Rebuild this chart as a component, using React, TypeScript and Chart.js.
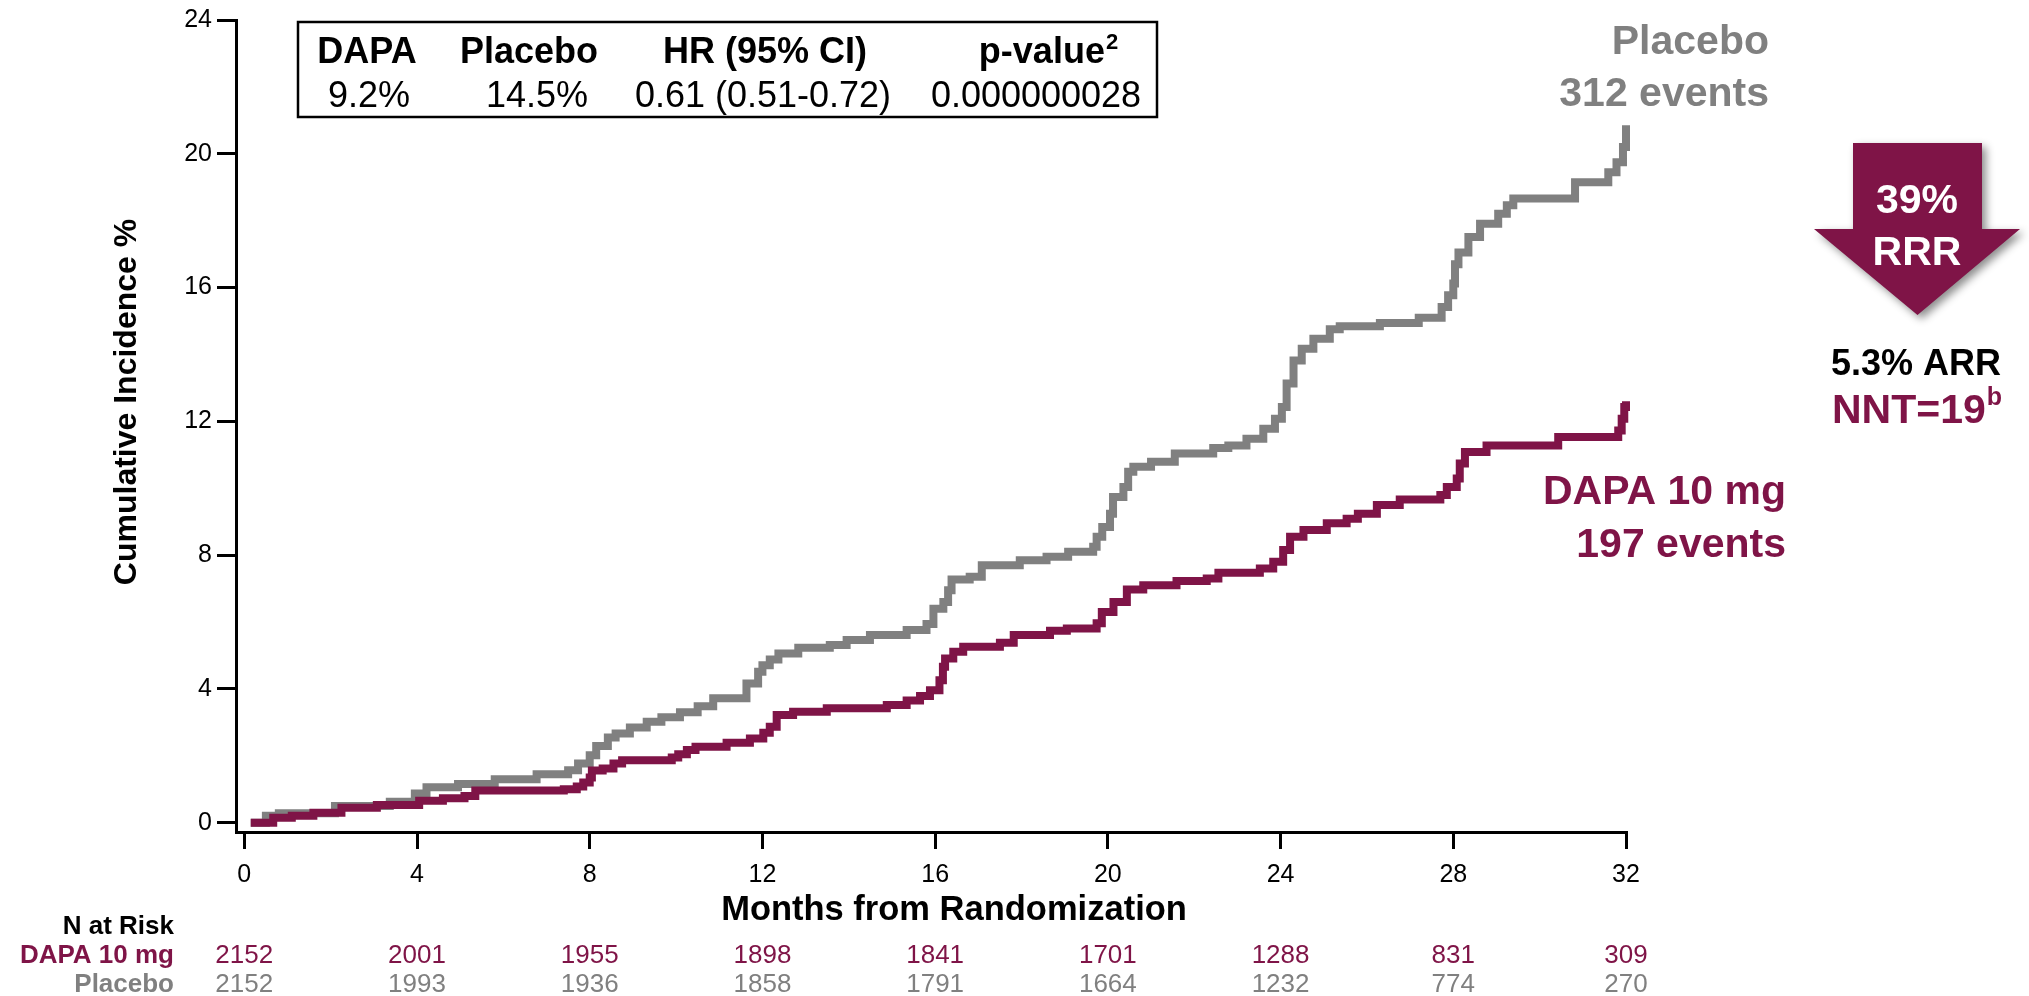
import React, { useEffect, useRef } from 'react';
import { Chart, registerables } from 'chart.js';

Chart.register(...registerables);

const PURPLE = '#7F1447';
const GRAY = '#808080';
const FONT = "'Liberation Sans', Arial, Helvetica, sans-serif";

const xTicks = [0, 4, 8, 12, 16, 20, 24, 28, 32];
const yTicks = [0, 4, 8, 12, 16, 20, 24];

const dapaMonths = [0.15, 0.67, 1.1, 1.6, 2.25, 3.07, 4.05, 4.6, 5.1, 5.35, 7.4, 7.7, 7.85, 8.0, 8.05, 8.3, 8.55, 8.75, 9.9, 10.05, 10.25, 10.45, 11.17, 11.71, 12.02, 12.17, 12.33, 12.71, 13.49, 14.88, 15.34, 15.65, 15.88, 16.1, 16.18, 16.23, 16.42, 16.65, 17.5, 17.82, 18.66, 19.05, 19.74, 19.86, 20.13, 20.44, 20.82, 21.59, 22.29, 22.56, 23.52, 23.83, 24.06, 24.22, 24.53, 25.07, 25.53, 25.79, 26.23, 26.76, 27.7, 27.85, 28.08, 28.15, 28.27, 28.77, 30.43, 31.82, 31.9, 31.96, 32.0];
const dapaValues = [0, 0.15, 0.21, 0.3, 0.45, 0.53, 0.66, 0.73, 0.8, 0.96, 1.0, 1.08, 1.2, 1.35, 1.56, 1.62, 1.77, 1.87, 1.95, 2.05, 2.17, 2.27, 2.39, 2.52, 2.69, 2.87, 3.22, 3.32, 3.42, 3.52, 3.65, 3.79, 3.96, 4.26, 4.66, 4.91, 5.11, 5.26, 5.38, 5.61, 5.74, 5.81, 5.96, 6.3, 6.6, 6.97, 7.1, 7.23, 7.3, 7.47, 7.6, 7.8, 8.15, 8.55, 8.75, 8.95, 9.09, 9.24, 9.5, 9.66, 9.8, 10.04, 10.29, 10.74, 11.08, 11.28, 11.53, 11.73, 12.08, 12.43, 12.6];

const placeboMonths = [0.15, 0.5, 0.8, 2.1, 3.37, 3.95, 4.22, 4.95, 5.8, 6.77, 7.5, 7.73, 8.0, 8.15, 8.42, 8.6, 8.93, 9.32, 9.66, 10.09, 10.5, 10.86, 11.63, 11.9, 12.0, 12.17, 12.37, 12.83, 13.56, 13.95, 14.49, 15.34, 15.8, 15.96, 16.19, 16.3, 16.38, 16.8, 17.08, 17.96, 18.58, 19.08, 19.66, 19.74, 19.87, 20.05, 20.12, 20.36, 20.47, 20.59, 21.0, 21.55, 22.44, 22.79, 23.21, 23.6, 23.87, 24.03, 24.14, 24.3, 24.49, 24.76, 25.14, 25.37, 26.3, 27.2, 27.73, 27.88, 28.0, 28.04, 28.12, 28.35, 28.62, 29.04, 29.24, 29.39, 30.82, 31.59, 31.78, 31.93, 32.0];
const placeboValues = [0, 0.21, 0.28, 0.5, 0.63, 0.87, 1.06, 1.16, 1.3, 1.45, 1.57, 1.77, 2.02, 2.29, 2.55, 2.67, 2.85, 3.02, 3.15, 3.3, 3.48, 3.72, 4.16, 4.51, 4.71, 4.88, 5.06, 5.23, 5.31, 5.46, 5.61, 5.76, 5.94, 6.4, 6.6, 6.95, 7.27, 7.35, 7.7, 7.85, 7.95, 8.1, 8.25, 8.55, 8.84, 9.24, 9.74, 10.04, 10.49, 10.64, 10.79, 11.04, 11.2, 11.28, 11.48, 11.78, 12.08, 12.43, 13.13, 13.82, 14.17, 14.47, 14.75, 14.84, 14.94, 15.1, 15.42, 15.77, 16.12, 16.7, 17.05, 17.51, 17.91, 18.21, 18.46, 18.66, 19.15, 19.45, 19.75, 20.2, 20.85];

const riskMonths = [0, 4, 8, 12, 16, 20, 24, 28, 32];
const dapaAtRisk = [2152, 2001, 1955, 1898, 1841, 1701, 1288, 831, 309];
const placeboAtRisk = [2152, 1993, 1936, 1858, 1791, 1664, 1232, 774, 270];

const tableHeaders = ['DAPA', 'Placebo', 'HR (95% CI)', 'p-value'];
const tableHeaderSup = ['', '', '', '2'];
const tableValues = ['9.2%', '14.5%', '0.61 (0.51-0.72)', '0.000000028'];

const placeboLabel = ['Placebo', '312 events'];
const dapaLabel = ['DAPA 10 mg', '197 events'];
const rrrText = ['39%', 'RRR'];
const arrText = '5.3% ARR';
const nntText = 'NNT=19';
const nntSup = 'b';

function toPoints(xs: number[], ys: number[]) {
  return xs.map((x, i) => ({ x, y: ys[i] }));
}

const annotationPlugin = {
  id: 'annotations',
  afterDraw(chart: any) {
    const ctx: CanvasRenderingContext2D = chart.ctx;
    const xs = chart.scales.x;
    ctx.save();

    // Y axis title
    ctx.save();
    ctx.translate(127, 402);
    ctx.rotate(-Math.PI / 2);
    ctx.font = `bold 32px ${FONT}`;
    ctx.fillStyle = '#000';
    ctx.textAlign = 'center';
    ctx.textBaseline = 'middle';
    ctx.fillText('Cumulative Incidence %', 0, 0);
    ctx.restore();

    // X axis title
    ctx.font = `bold 34.5px ${FONT}`;
    ctx.fillStyle = '#000';
    ctx.textAlign = 'center';
    ctx.textBaseline = 'alphabetic';
    ctx.fillText('Months from Randomization', 954, 920);

    // Stats table
    ctx.strokeStyle = '#000';
    ctx.lineWidth = 2.5;
    ctx.strokeRect(298, 22, 859, 95);
    const headCenters = [367, 529, 765, 1048];
    const valCenters = [369, 537, 763, 1036];
    ctx.fillStyle = '#000';
    tableHeaders.forEach((t, i) => {
      ctx.font = `bold 36px ${FONT}`;
      const w = ctx.measureText(t).width;
      let sw = 0;
      if (tableHeaderSup[i]) {
        ctx.font = `bold 22px ${FONT}`;
        sw = ctx.measureText(tableHeaderSup[i]).width;
      }
      const start = headCenters[i] - (w + sw) / 2;
      ctx.textAlign = 'left';
      ctx.font = `bold 36px ${FONT}`;
      ctx.fillText(t, start, 63);
      if (tableHeaderSup[i]) {
        ctx.font = `bold 22px ${FONT}`;
        ctx.fillText(tableHeaderSup[i], start + w + 1, 49);
      }
    });
    ctx.font = `36px ${FONT}`;
    ctx.textAlign = 'center';
    tableValues.forEach((t, i) => ctx.fillText(t, valCenters[i], 107));

    // Curve labels
    ctx.font = `bold 41px ${FONT}`;
    ctx.textAlign = 'right';
    ctx.fillStyle = GRAY;
    ctx.fillText(placeboLabel[0], 1769, 54);
    ctx.fillText(placeboLabel[1], 1769, 106);
    ctx.fillStyle = PURPLE;
    ctx.fillText(dapaLabel[0], 1786, 504);
    ctx.fillText(dapaLabel[1], 1786, 557);

    // Arrow
    ctx.save();
    ctx.shadowColor = 'rgba(0,0,0,0.45)';
    ctx.shadowBlur = 8;
    ctx.shadowOffsetX = 4;
    ctx.shadowOffsetY = 4;
    ctx.fillStyle = PURPLE;
    ctx.beginPath();
    ctx.moveTo(1853, 143);
    ctx.lineTo(1982, 143);
    ctx.lineTo(1982, 229);
    ctx.lineTo(2020, 229);
    ctx.lineTo(1917.5, 315);
    ctx.lineTo(1814, 229);
    ctx.lineTo(1853, 229);
    ctx.closePath();
    ctx.fill();
    ctx.restore();
    ctx.fillStyle = '#fff';
    ctx.textAlign = 'center';
    ctx.font = `bold 41px ${FONT}`;
    ctx.fillText(rrrText[0], 1917, 213);
    ctx.fillText(rrrText[1], 1917, 265);

    ctx.fillStyle = '#000';
    ctx.font = `bold 36px ${FONT}`;
    ctx.fillText(arrText, 1916, 375);
    ctx.fillStyle = PURPLE;
    ctx.textAlign = 'left';
    ctx.font = `bold 41px ${FONT}`;
    const nw = ctx.measureText(nntText).width;
    ctx.fillText(nntText, 1832, 423);
    ctx.font = `bold 25px ${FONT}`;
    ctx.fillText(nntSup, 1832 + nw + 1, 405);

    // N at risk table
    ctx.textAlign = 'right';
    ctx.font = `bold 26px ${FONT}`;
    ctx.fillStyle = '#000';
    ctx.fillText('N at Risk', 174, 934);
    ctx.fillStyle = PURPLE;
    ctx.fillText('DAPA 10 mg', 174, 963);
    ctx.fillStyle = GRAY;
    ctx.fillText('Placebo', 174, 992);
    ctx.textAlign = 'center';
    ctx.font = `26px ${FONT}`;
    riskMonths.forEach((m, i) => {
      const px = xs.getPixelForValue(m);
      ctx.fillStyle = PURPLE;
      ctx.fillText(String(dapaAtRisk[i]), px, 963);
      ctx.fillStyle = GRAY;
      ctx.fillText(String(placeboAtRisk[i]), px, 992);
    });

    ctx.restore();
  },
};

export default function App() {
  const canvasRef = useRef<HTMLCanvasElement | null>(null);

  useEffect(() => {
    if (!canvasRef.current) return;
    const lineStyle = {
      borderWidth: 8,
      pointRadius: 0,
      stepped: 'before',
      fill: false,
      borderJoinStyle: 'miter',
      borderCapStyle: 'butt',
      clip: false,
    };
    const chart = new Chart(canvasRef.current, {
      type: 'line',
      data: {
        datasets: [
          {
            label: 'DAPA 10 mg',
            data: toPoints(dapaMonths, dapaValues),
            borderColor: PURPLE,
            backgroundColor: PURPLE,
            ...lineStyle,
          } as any,
          {
            label: 'Placebo',
            data: toPoints(placeboMonths, placeboValues),
            borderColor: GRAY,
            backgroundColor: GRAY,
            ...lineStyle,
          } as any,
        ],
      },
      options: {
        animation: false,
        responsive: false,
        events: [],
        layout: { padding: { left: 0, right: 403, top: 19.4, bottom: 0 } },
        plugins: { legend: { display: false }, tooltip: { enabled: false } },
        scales: {
          x: {
            type: 'linear',
            min: -0.192,
            max: 32,
            afterBuildTicks: (s: any) => {
              s.ticks = xTicks.map((v) => ({ value: v }));
            },
            afterFit: (s: any) => {
              s.height = 164;
            },
            grid: {
              display: true,
              drawOnChartArea: false,
              drawTicks: true,
              tickLength: 17,
              tickWidth: 3,
              tickColor: '#000',
              color: '#000',
              lineWidth: 3,
            },
            border: { display: true, color: '#000', width: 3 },
            ticks: {
              color: '#000',
              font: { family: FONT, size: 25 },
              padding: 11,
              maxRotation: 0,
              autoSkip: false,
              callback: (v: any) => String(v),
            },
            title: { display: false },
          },
          y: {
            type: 'linear',
            min: -0.278,
            max: 24,
            afterBuildTicks: (s: any) => {
              s.ticks = yTicks.map((v) => ({ value: v }));
            },
            afterFit: (s: any) => {
              s.width = 236;
            },
            grid: {
              display: true,
              drawOnChartArea: false,
              drawTicks: true,
              tickLength: 19,
              tickWidth: 3,
              tickColor: '#000',
              color: '#000',
              lineWidth: 3,
            },
            border: { display: true, color: '#000', width: 3 },
            ticks: {
              color: '#000',
              font: { family: FONT, size: 25 },
              padding: 5,
              autoSkip: false,
              callback: (v: any) => String(v),
            },
          },
        },
      } as any,
      plugins: [annotationPlugin],
    });
    return () => chart.destroy();
  }, []);

  return (
    <div style={{ position: 'absolute', left: 0, top: 0, width: 2029, height: 996, background: '#fff' }}>
      <canvas ref={canvasRef} width={2029} height={996} style={{ display: 'block', width: 2029, height: 996 }} />
    </div>
  );
}
